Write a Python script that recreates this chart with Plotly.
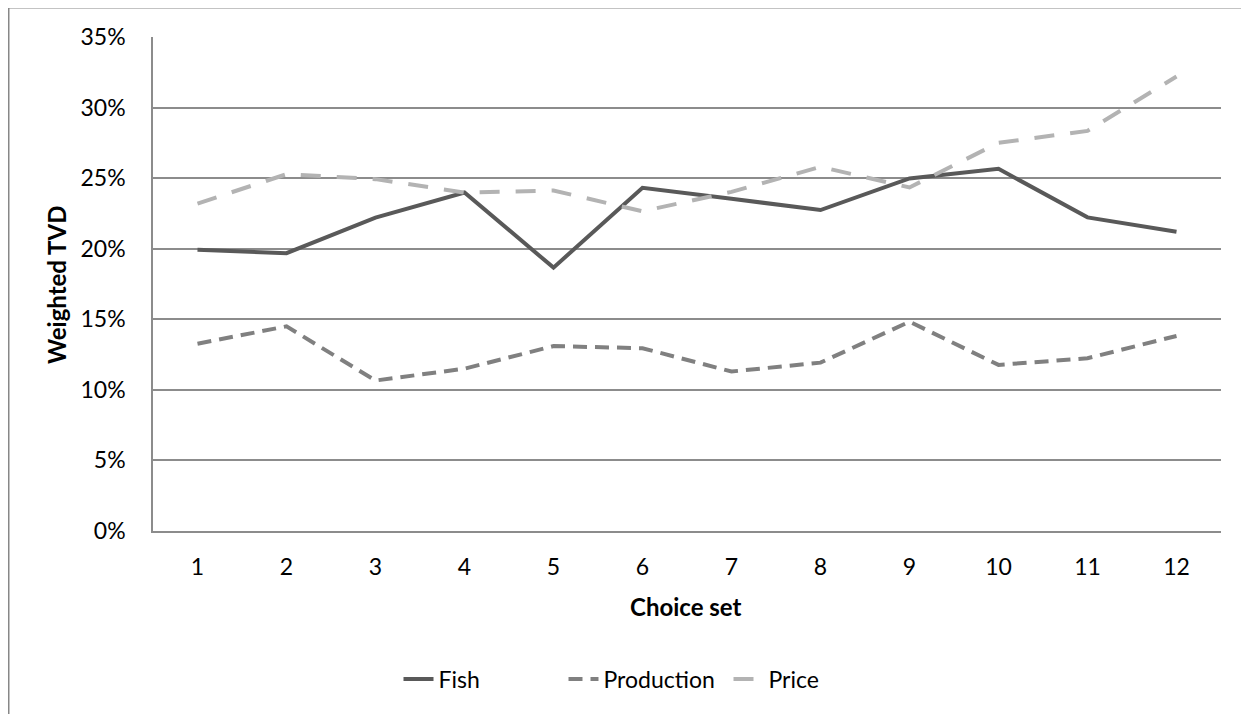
import plotly.graph_objects as go

choice_sets = [1, 2, 3, 4, 5, 6, 7, 8, 9, 10, 11, 12]
fish = [0.1993, 0.1968, 0.2220, 0.2398, 0.1866, 0.2432, 0.2354, 0.2274, 0.2498, 0.2566, 0.2222, 0.2120]
production = [0.1327, 0.1450, 0.1066, 0.1150, 0.1310, 0.1295, 0.1130, 0.1193, 0.1483, 0.1177, 0.1224, 0.1382]
price = [0.2320, 0.2528, 0.2493, 0.2398, 0.2412, 0.2265, 0.2403, 0.2580, 0.2434, 0.2750, 0.2835, 0.3220]
y_ticks = [0, 0.05, 0.10, 0.15, 0.20, 0.25, 0.30, 0.35]

FONT = "Lato"
fig = go.Figure()
fig.add_trace(go.Scatter(x=choice_sets, y=fish, name="Fish", mode="lines",
                         line=dict(color="#595959", width=4)))
fig.add_trace(go.Scatter(x=choice_sets, y=production, name="Production", mode="lines",
                         line=dict(color="#808080", width=4, dash="14px,8px")))
fig.add_trace(go.Scatter(x=choice_sets, y=price, name="Price", mode="lines",
                         line=dict(color="#b3b3b3", width=4, dash="20px,16px")))

# page body adds an 8px offset; figure coordinates below are page coords - 8
L, R, T, B = 145, 36, 29, 191
W, H = 1249, 714
pw = W - L - R
ph = H - T - B

def px(x):
    return (x - L) / pw

def py(y):
    return (T + ph - y) / ph

fig.update_layout(
    width=W, height=H,
    margin=dict(l=L, r=R, t=T, b=B),
    paper_bgcolor="white", plot_bgcolor="white",
    font=dict(family=FONT, size=23, color="black"),
    showlegend=True,
    legend=dict(orientation="h", x=px(638), xanchor="center", y=py(671),
                yanchor="middle", font=dict(size=23, family=FONT),
                entrywidth=120, entrywidthmode="pixels"),
    xaxis=dict(range=[0.5, 12.5], tickmode="array", tickvals=choice_sets,
               ticktext=[str(c) for c in choice_sets], showgrid=False,
               showline=True, linecolor="#8c8c8c", linewidth=1.5,
               ticks="outside", ticklen=15, tickcolor="rgba(0,0,0,0)",
               zeroline=False, fixedrange=True),
    yaxis=dict(range=[0, 0.35], tickmode="array", tickvals=y_ticks,
               ticktext=[f"{int(round(v*100))}%" for v in y_ticks],
               showgrid=True, gridcolor="#8c8c8c", gridwidth=1.5,
               showline=True, linecolor="#8c8c8c", linewidth=1.5,
               ticks="outside", ticklen=21, tickcolor="rgba(0,0,0,0)",
               zeroline=False, fixedrange=True),
    annotations=[
        dict(text="<b>Choice set</b>", xref="paper", yref="paper",
             x=px(678), y=py(598), showarrow=False,
             xanchor="center", yanchor="middle", font=dict(size=24, family=FONT)),
        dict(text="<b>Weighted TVD</b>", xref="paper", yref="paper",
             x=px(48), y=py(277), showarrow=False, textangle=-90,
             xanchor="center", yanchor="middle", font=dict(size=24, family=FONT)),
    ],
    shapes=[
        dict(type="rect", xref="paper", yref="paper",
             x0=px(0.5), x1=px(W + 20), y0=py(H + 20), y1=py(-0.5),
             line=dict(color="#878787", width=2), fillcolor="rgba(0,0,0,0)", layer="below"),
    ],
)

fig.write_html("out.html")
